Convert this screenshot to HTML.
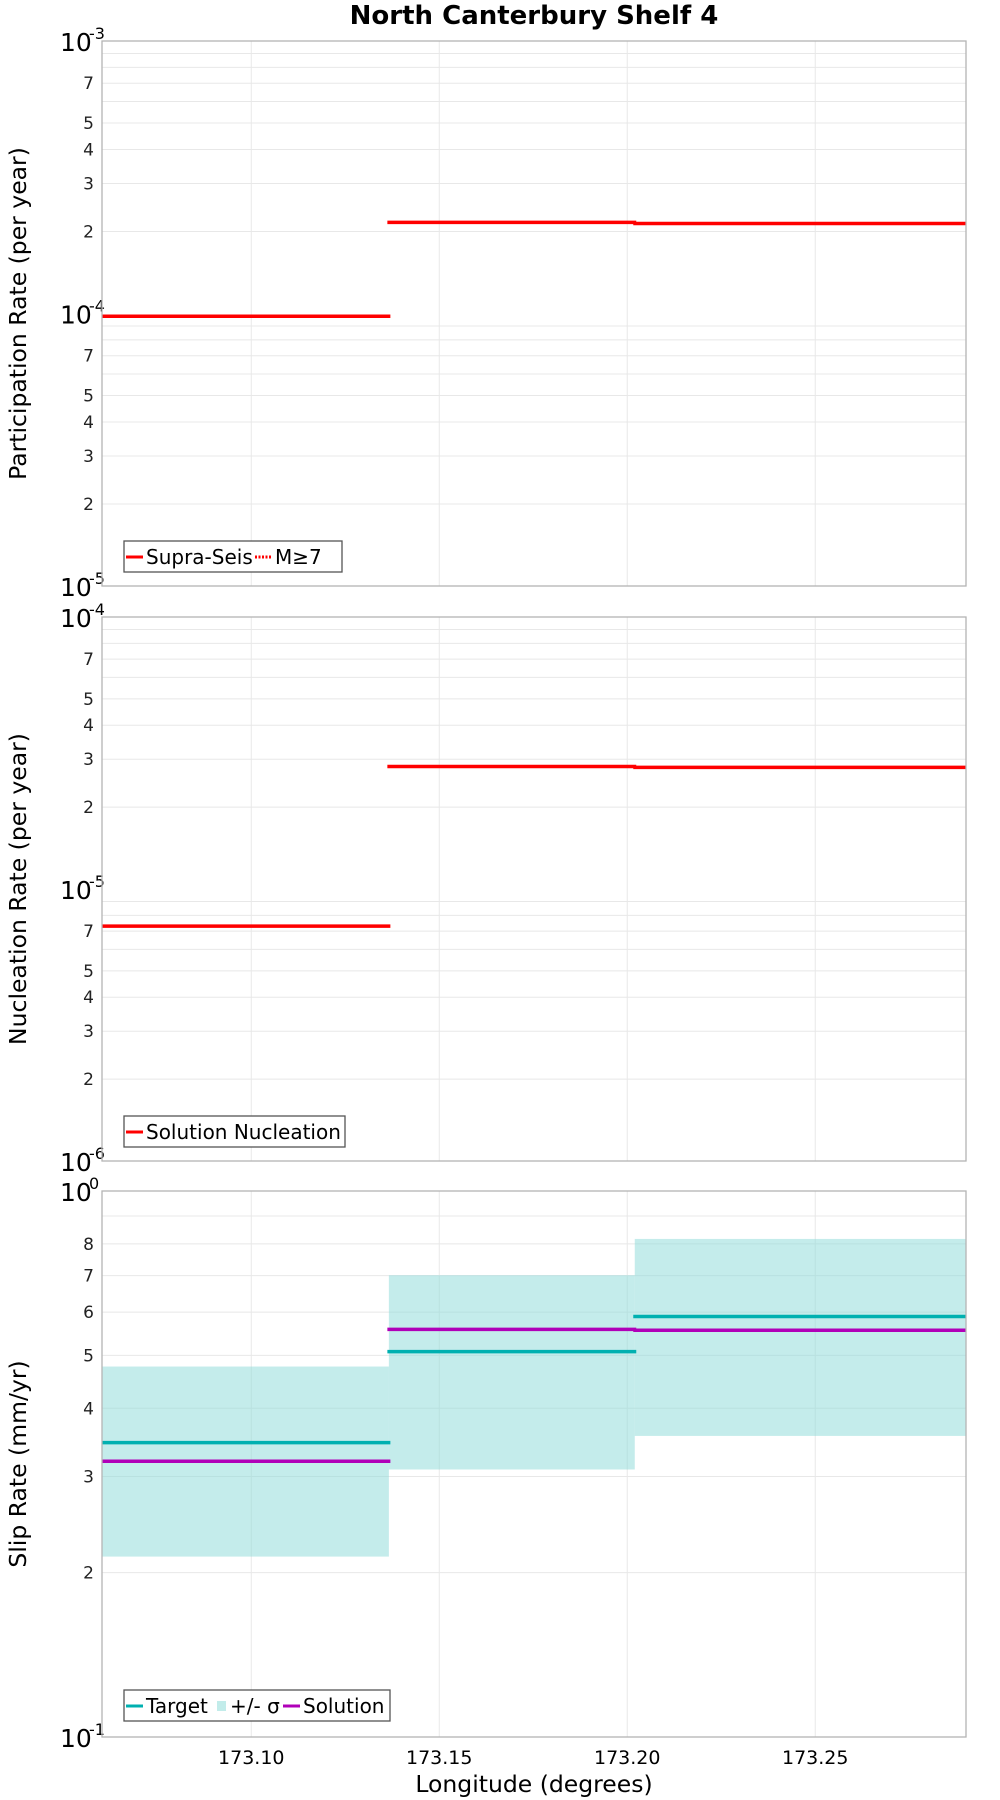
<!DOCTYPE html>
<html><head><meta charset="utf-8"><style>
html,body{margin:0;padding:0;background:#fff;}
svg{display:block;font-family:"DejaVu Sans","Liberation Sans",sans-serif;}
</style></head><body>
<svg id="chart" width="1000" height="1800" viewBox="0 0 1000 1800" xmlns="http://www.w3.org/2000/svg">
<text x="534" y="24" text-anchor="middle" font-size="26" font-weight="bold">North Canterbury Shelf 4</text>
<text x="534" y="1792" text-anchor="middle" font-size="23.5">Longitude (degrees)</text>
</svg>
<script>
const xEdges = [173.0603, 173.1366, 173.2020, 173.2901];
const xTicks = [173.10, 173.15, 173.20, 173.25];
const xTickLabels = ["173.10", "173.15", "173.20", "173.25"];
const partSupra = [9.77e-5, 2.16e-4, 2.14e-4];
const nuclSolution = [7.3e-6, 2.82e-5, 2.80e-5];
const slipTarget = [0.346, 0.508, 0.589];
const slipSolution = [0.320, 0.558, 0.556];
const slipSigmaLow = [0.214, 0.309, 0.356];
const slipSigmaHigh = [0.477, 0.701, 0.817];

const NS = "http://www.w3.org/2000/svg";
const svg = document.getElementById('chart');
const L = 102, R = 966;
const xMin = 173.0603, xMax = 173.2901;
function xs(v){ return L + (v - xMin) / (xMax - xMin) * (R - L); }
function mk(tag, attrs, parent){ const e = document.createElementNS(NS, tag); for (const k in attrs) e.setAttribute(k, attrs[k]); (parent||svg).appendChild(e); return e; }

function panel(cfg){
  const {top, bottom, lo, hi, minorLabels, title, key} = cfg;
  const g = mk('g', {});
  
  
  const ys = v => bottom - (Math.log10(v) - lo) / (hi - lo) * (bottom - top);
  for (let d = lo; d < hi; d++) {
    for (let m = 1; m <= 9; m++) {
      const v = m * Math.pow(10, d);
      const y = ys(v);
      if (m > 1) {
        const gl = mk('line', {x1: L, x2: R, y1: y, y2: y, stroke: '#e8e8e8', 'stroke-width': 1}, g);
        
        
      }
      if (m > 1 && minorLabels.includes(m)) {
        const t = mk('text', {x: 94, y: y + 6, 'text-anchor': 'end', 'font-size': 17, fill: '#222'}, g);
        t.textContent = String(m);
        
        
      }
    }
  }
  for (let d = lo; d <= hi; d++) {
    const y = ys(Math.pow(10, d));
    const t = mk('text', {x: 60, y: y + 10, 'font-size': 25}, g);
    t.textContent = '10';
    
    
    const s = mk('text', {x: 89, y: y - 2, 'font-size': 16}, g);
    s.textContent = String(d);
    
    
  }
  xTicks.forEach(v => {
    const gl = mk('line', {x1: xs(v), x2: xs(v), y1: top, y2: bottom, stroke: '#e8e8e8', 'stroke-width': 1}, g);
    
    
  });
  const yt = mk('text', {x: 0, y: 0, 'text-anchor': 'middle', 'font-size': 23.5, transform: `translate(26,${(top+bottom)/2}) rotate(-90)`}, g);
  yt.textContent = title;
  
  
  return {g, ys, top, bottom};
}
function frame(p){
  const r = mk('rect', {x: L, y: p.top, width: R - L, height: p.bottom - p.top, fill: 'none', stroke: '#b4b4b4', 'stroke-width': 1.3}, p.g);
  
  
}
function steps(p, vals, color, w, name){
  vals.forEach((v, i) => {
    const y = p.ys(v);
    const ln = mk('line', {x1: xs(xEdges[i]) - (i ? 1.5 : 0), x2: xs(xEdges[i+1]) + (i < vals.length - 1 ? 1.5 : 0), y1: y, y2: y, stroke: color, 'stroke-width': w}, p.g);
    
    
  });
}
function legend(p, x, y, w, items){
  const lg = mk('g', {}, p.g);
  
  
  const r = mk('rect', {x: x, y: y, width: w, height: 31, fill: '#fff', stroke: '#555', 'stroke-width': 1.3}, lg);
  
  
  let cx = x + 2;
  items.forEach(it => {
    const e = mk('g', {}, lg);
    
    
    if (it.type === 'box') mk('rect', {x: cx + 1, y: y + 11, width: 9, height: 10, fill: it.color}, e);
    else mk('line', {x1: cx, x2: cx + 17, y1: y + 16, y2: y + 16, stroke: it.color, 'stroke-width': 3, 'stroke-dasharray': it.dash || 'none'}, e);
    const t = mk('text', {x: cx + (it.type === 'box' ? 14 : 20), y: y + 23, 'font-size': 20}, e);
    t.textContent = it.label;
    cx += it.w;
  });
}

const p1 = panel({top: 41, bottom: 586, lo: -5, hi: -3, minorLabels: [2,3,4,5,7], title: 'Participation Rate (per year)', key: 'participation'});
steps(p1, partSupra, '#ff0000', 3.5, 'supra-seis');
legend(p1, 124, 541, 218, [{label: 'Supra-Seis', color: '#ff0000', w: 129}, {label: 'M≥7', color: '#ff0000', dash: '2,1.5', w: 60}]);
frame(p1);

const p2 = panel({top: 617, bottom: 1161, lo: -6, hi: -4, minorLabels: [2,3,4,5,7], title: 'Nucleation Rate (per year)', key: 'nucleation'});
steps(p2, nuclSolution, '#ff0000', 3.5, 'solution-nucleation');
legend(p2, 124, 1116, 221, [{label: 'Solution Nucleation', color: '#ff0000', w: 200}]);
frame(p2);

const p3 = panel({top: 1191, bottom: 1737, lo: -1, hi: 0, minorLabels: [2,3,4,5,6,7,8], title: 'Slip Rate (mm/yr)', key: 'slip-rate'});
slipSigmaLow.forEach((lo, i) => {
  const y1 = p3.ys(slipSigmaHigh[i]), y2 = p3.ys(lo);
  const r = mk('rect', {x: xs(xEdges[i]), y: y1, width: xs(xEdges[i+1]) - xs(xEdges[i]), height: y2 - y1, fill: 'rgba(138,218,215,0.5)'}, p3.g);
  
  
});
steps(p3, slipTarget, '#00b0b0', 3.5, 'target');
steps(p3, slipSolution, '#b000b8', 3.5, 'solution');
legend(p3, 124, 1690, 266, [{label: 'Target', color: '#00b0b0', w: 90}, {label: '+/- σ', color: '#c2ecea', type: 'box', w: 67}, {label: 'Solution', color: '#b000b8', w: 100}]);
frame(p3);

xTicks.forEach((v, i) => {
  const t = mk('text', {x: xs(v), y: 1764, 'text-anchor': 'middle', 'font-size': 19});
  t.textContent = xTickLabels[i];
  
  
});
</script>
</body></html>
